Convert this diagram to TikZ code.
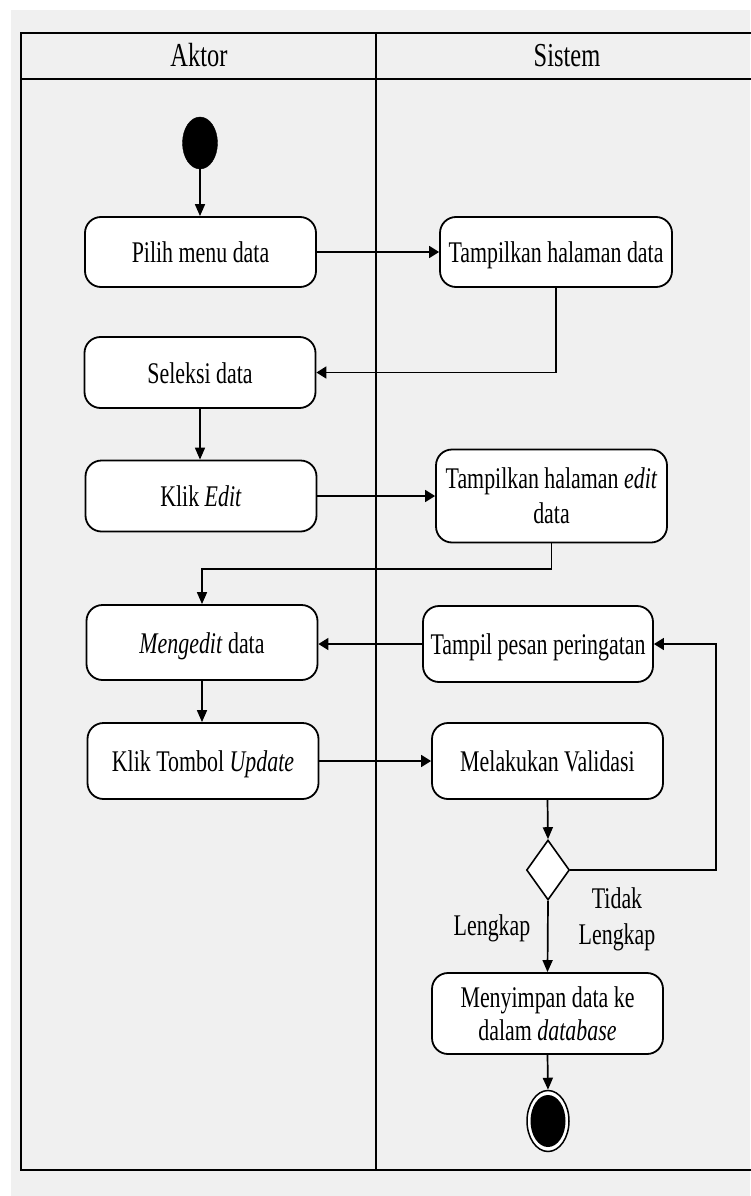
\documentclass[tikz,border=0pt]{standalone}
\usepackage{fontspec}
\setmainfont{Liberation Serif}[FakeStretch=0.73]
\usetikzlibrary{arrows.meta,shapes.geometric}
\definecolor{pagegray}{HTML}{F0F0F0}
\begin{document}
\begin{tikzpicture}[x=1pt,y=-1pt,
  lane/.style={line width=2pt,draw=black},
  headtext/.style={font=\fontsize{33.5}{38}\selectfont,inner sep=0pt,anchor=base},
  act/.style={draw=black,fill=white,line width=1.8pt,rounded corners=16pt,
    minimum width=231pt,minimum height=71pt,inner sep=0pt,align=center,
    font=\fontsize{30}{35}\selectfont},
  oneline/.style={text height=21pt,text depth=0pt},
  lbl/.style={font=\fontsize{30}{36}\selectfont,inner sep=0pt,align=center,anchor=base},
  conn/.style={line width=1.7pt,draw=black},
  hto/.style={conn,-{Triangle[length=10pt,width=12pt]}},
  vto/.style={conn,-{Triangle[length=12pt,width=10pt]}}
]
\useasboundingbox (0,0) rectangle (750,1196);
% page background
\fill[white] (0,0) rectangle (750,1196);
\fill[pagegray] (11,10) rectangle (750,1196);

% swimlanes
\draw[lane] (21,33) rectangle (762,1170);
\draw[lane] (21,79) -- (762,79);
\draw[lane] (376,33) -- (376,1170);
\node[headtext] (hAktor) at (199,67) {Aktor};
\node[headtext] (hSistem) at (567,67) {Sistem};

% start
\node[ellipse,draw=black,fill=black,minimum width=35pt,minimum height=52pt,inner sep=0pt] (start) at (200,143) {};

% activities, Aktor lane
\node[act,oneline,minimum height=70pt] (pilih) at (200.5,252) {Pilih menu data};
\node[act,oneline] (seleksi) at (200,372.5) {Seleksi data};
\node[act,oneline] (klik) at (201,496) {Klik \textit{Edit}};
\node[act,oneline,minimum height=75pt] (edit) at (202,642.5) {\textit{Mengedit} data};
\node[act,oneline,minimum height=76pt] (update) at (203,761) {Klik Tombol \textit{Update}};

% activities, Sistem lane
\node[act,oneline,minimum height=70pt,minimum width=232pt] (hal) at (556,252) {Tampilkan halaman data};
\node[act,minimum height=93pt] (haledit) at (551.5,496) {Tampilkan halaman \textit{edit}\\data};
\node[act,oneline,minimum height=76pt,minimum width=230pt] (pesan) at (538,644) {Tampil pesan peringatan};
\node[act,oneline,minimum height=76pt] (valid) at (547.5,761) {Melakukan Validasi};
\node[diamond,draw=black,fill=white,line width=1.6pt,minimum width=43pt,minimum height=60pt,inner sep=0pt] (dec) at (548,870) {};
\node[act,minimum height=81pt,font=\fontsize{30}{33}\selectfont] (simpan) at (547.5,1013.5) {Menyimpan data ke\\dalam \textit{database}};

% end
\node[ellipse,draw=black,fill=white,line width=1.5pt,minimum width=42pt,minimum height=61pt,inner sep=0pt] (end) at (548,1121) {};
\node[ellipse,fill=black,minimum width=35pt,minimum height=52pt,inner sep=0pt] (endcore) at (end.center) {};

% guard labels
\node[lbl] (lengkap) at (492,935) {Lengkap};
\node[lbl] (tidak) at (617,944) {Tidak\\Lengkap};

% bend points
\coordinate (turnEdit) at (551.5,569);
\coordinate (turnBack) at (716,870);

% flows
\draw[vto] (start.south) -- (start.south |- pilih.north);
\draw[hto] (pilih.east) -- (hal.west);
\draw[hto] (hal.south) |- (seleksi.east);
\draw[vto] (seleksi.south) -- (seleksi.south |- klik.north);
\draw[hto] (klik.east) -- (haledit.west);
\draw[vto] (haledit.south) -- (turnEdit) -| (edit.north);
\draw[hto] (pesan.west) -- (pesan.west -| edit.east);
\draw[vto] (edit.south) -- (edit.south |- update.north);
\draw[hto] (update.east) -- (valid.west);
\draw[vto] (valid.south) -- (dec.north);
\draw[hto] (dec.east) -- (turnBack) |- (pesan.east);
\draw[vto] (dec.south) -- (simpan.north);
\draw[vto] (simpan.south) -- (end.north);
\end{tikzpicture}
\end{document}
